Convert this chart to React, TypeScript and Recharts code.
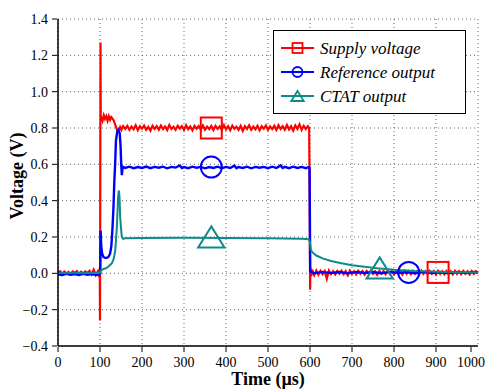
import React from "react"
import { ComposedChart, Line, XAxis, YAxis, CartesianGrid } from "recharts"

const FONT = "'Liberation Serif', 'DejaVu Serif', 'Noto Serif', 'Nimbus Roman', FreeSerif, 'Times New Roman', Times, serif"
const RED = "#ff0000"
const BLUE = "#0000ff"
const TEAL = "#0e8a8a"

const xTicks = [0, 100, 200, 300, 400, 500, 600, 700, 800, 900, 1000]
const yTicks = [-0.4, -0.2, 0, 0.2, 0.4, 0.6, 0.8, 1.0, 1.2, 1.4]

// [time (us), voltage (V)]
const supplyVoltage: [number, number][] = [
  [0, 0.005], [5, 0.012], [10, -0.002], [15, 0.01], [20, 0.0], [25, 0.008], [30, -0.004], [35, 0.01],
  [40, 0.003], [45, 0.012], [50, -0.003], [55, 0.009], [60, 0.0], [65, 0.011], [70, 0.002], [75, 0.014],
  [80, -0.006], [85, 0.02], [90, -0.01], [95, 0.012], [98, -0.02], [99.5, 0.01],
  [100, -0.26], [100.6, 0.4], [101.2, 1.27], [101.8, 0.84], [103, 0.86], [106, 0.84], [109, 0.87],
  [112, 0.85], [115, 0.865], [118, 0.84], [121, 0.865], [124, 0.845], [127, 0.86], [130, 0.85],
  [133, 0.84], [136, 0.82], [139, 0.8], [142, 0.78], [145, 0.785], [148, 0.805], [151, 0.79],
  [155, 0.81], [160, 0.795], [165, 0.812], [170, 0.79], [175, 0.808], [180, 0.793], [185, 0.815],
  [190, 0.788], [195, 0.81], [200, 0.796], [205, 0.813], [210, 0.79], [215, 0.806], [220, 0.785],
  [225, 0.812], [230, 0.795], [235, 0.81], [240, 0.791], [245, 0.814], [250, 0.794], [255, 0.809],
  [260, 0.789], [265, 0.816], [270, 0.795], [275, 0.807], [280, 0.79], [285, 0.812], [290, 0.797],
  [295, 0.81], [300, 0.79], [305, 0.815], [310, 0.793], [315, 0.808], [320, 0.787], [325, 0.812],
  [330, 0.796], [335, 0.81], [340, 0.792], [345, 0.814], [350, 0.79], [355, 0.808], [360, 0.794],
  [365, 0.811], [370, 0.789], [375, 0.812], [380, 0.795], [385, 0.809], [390, 0.79], [395, 0.816],
  [400, 0.793], [405, 0.81], [410, 0.788], [415, 0.813], [420, 0.796], [425, 0.807], [430, 0.79],
  [435, 0.812], [440, 0.784], [445, 0.81], [450, 0.795], [455, 0.815], [460, 0.79], [465, 0.808],
  [470, 0.793], [475, 0.812], [480, 0.788], [485, 0.81], [490, 0.796], [495, 0.814], [500, 0.79],
  [505, 0.809], [510, 0.794], [515, 0.812], [520, 0.789], [525, 0.815], [530, 0.795], [535, 0.81],
  [540, 0.79], [545, 0.817], [550, 0.792], [555, 0.81], [560, 0.786], [565, 0.814], [570, 0.795],
  [575, 0.82], [580, 0.79], [585, 0.812], [590, 0.794], [595, 0.81], [598, 0.8],
  [599.5, 0.3], [600.3, -0.09], [601, 0.03], [603, -0.015], [605, 0.02], [610, -0.01], [615, 0.015],
  [620, -0.008], [625, 0.014], [630, -0.005], [635, 0.012], [640, -0.03], [645, 0.015], [650, -0.004],
  [655, 0.012], [660, -0.006], [665, 0.013], [670, -0.002], [675, 0.014], [680, -0.005], [685, 0.012],
  [690, -0.01], [695, 0.015], [700, -0.003], [705, 0.011], [710, -0.006], [715, 0.014], [720, -0.002],
  [725, 0.012], [730, -0.007], [735, 0.013], [740, -0.004], [745, 0.015], [750, -0.003], [755, 0.011],
  [760, -0.008], [765, 0.013], [770, -0.002], [775, 0.012], [780, -0.005], [785, 0.014], [790, -0.003],
  [795, 0.012], [800, -0.006], [805, 0.013], [810, -0.002], [815, 0.011], [820, -0.007], [825, 0.014],
  [830, -0.003], [835, 0.012], [840, -0.005], [845, 0.013], [850, -0.002], [855, 0.012], [860, -0.006],
  [865, 0.015], [870, -0.003], [875, 0.011], [880, -0.005], [885, 0.013], [890, -0.002], [895, 0.012],
  [900, -0.007], [905, 0.014], [910, -0.003], [915, 0.011], [920, -0.005], [925, 0.013], [930, -0.002],
  [935, 0.012], [940, -0.006], [945, 0.014], [950, -0.003], [955, 0.012], [960, -0.005], [965, 0.013],
  [970, -0.002], [975, 0.011], [980, -0.006], [985, 0.013], [990, -0.003], [995, 0.012], [1000, 0.002],
]

const referenceOutput: [number, number][] = [
  [0, -0.005], [10, -0.009], [20, -0.003], [30, -0.008], [40, -0.004], [50, -0.009], [60, -0.003],
  [70, -0.008], [80, -0.004], [90, -0.009], [99, -0.005], [100.5, 0.0], [101.5, 0.235], [103, 0.15],
  [105, 0.11], [108, 0.09], [112, 0.085], [116, 0.085], [120, 0.09], [124, 0.108], [127, 0.15],
  [130, 0.26], [132, 0.36], [134, 0.5], [136, 0.6], [138, 0.73], [141, 0.78], [144, 0.79], [147, 0.77],
  [149, 0.7], [150.5, 0.6], [152, 0.54], [154, 0.586], [160, 0.58], [170, 0.587], [180, 0.579],
  [190, 0.585], [200, 0.58], [210, 0.588], [220, 0.579], [230, 0.586], [240, 0.581], [250, 0.587],
  [260, 0.578], [270, 0.586], [280, 0.582], [290, 0.594], [295, 0.58], [300, 0.585], [310, 0.579],
  [320, 0.587], [330, 0.581], [340, 0.586], [350, 0.578], [360, 0.585], [370, 0.58], [380, 0.587],
  [390, 0.579], [400, 0.586], [410, 0.58], [420, 0.593], [425, 0.579], [430, 0.585], [440, 0.58],
  [450, 0.587], [460, 0.578], [470, 0.586], [480, 0.581], [490, 0.586], [500, 0.579], [510, 0.587],
  [520, 0.58], [530, 0.594], [535, 0.58], [540, 0.586], [550, 0.579], [560, 0.587], [570, 0.58],
  [580, 0.586], [590, 0.579], [597, 0.585], [599, 0.58], [600.5, 0.01], [610, 0.0], [630, 0.008],
  [650, 0.001], [670, 0.007], [690, 0.0], [710, 0.008], [730, 0.002], [750, 0.007], [770, 0.0],
  [790, 0.008], [810, 0.001], [830, 0.007], [850, 0.0], [870, 0.008], [890, 0.002], [910, 0.007],
  [930, 0.0], [950, 0.008], [970, 0.001], [990, 0.007], [1000, 0.003],
]

const ctatOutput: [number, number][] = [
  [0, 0.003], [20, 0.0], [40, 0.004], [60, 0.001], [80, 0.003], [99, 0.002], [101, 0.012],
  [105, 0.02], [110, 0.025], [116, 0.03], [122, 0.042], [128, 0.055], [132, 0.075], [136, 0.12],
  [138, 0.18], [140, 0.25], [141.5, 0.33], [143, 0.42], [145, 0.456], [146.5, 0.42], [148, 0.31],
  [150, 0.25], [152, 0.2], [155, 0.19], [160, 0.193], [200, 0.195], [300, 0.196], [400, 0.195],
  [500, 0.193], [580, 0.19], [597, 0.188], [600, 0.17], [602, 0.13], [606, 0.115], [615, 0.098],
  [630, 0.082], [650, 0.068], [675, 0.055], [700, 0.045], [730, 0.036], [760, 0.028], [800, 0.02],
  [850, 0.013], [900, 0.009], [950, 0.006], [1000, 0.005],
]

const supplyMarkers: [number, number][] = [[365, 0.8], [905, 0.005]]
const referenceMarkers: [number, number][] = [[365, 0.585], [835, 0.005]]
const ctatMarkers: [number, number][] = [[365, 0.2], [766, 0.03]]

const toRows = (pts: [number, number][]) => pts.map(([t, v]) => ({ t, v }))

const fmtY = (v: number) => (v < 0 ? "\u2212" + Math.abs(v).toFixed(1) : v.toFixed(1))

const txt = (size: number, extra: React.CSSProperties = {}): React.CSSProperties => ({
  fontFamily: FONT,
  fontSize: size,
  fill: "#000",
  ...extra,
})

function Square({ cx, cy, s = 21, w = 2 }: any) {
  return <rect x={cx - s / 2} y={cy - s / 2} width={s} height={s} fill="none" stroke={RED} strokeWidth={w} />
}
function Ring({ cx, cy, s = 21, w = 2 }: any) {
  return <circle cx={cx} cy={cy} r={s / 2} fill="none" stroke={BLUE} strokeWidth={w} />
}
function Tri({ cx, cy, s = 21, w = 2 }: any) {
  const h = s / 2
  const pts = `${cx},${cy - h} ${cx - h * 1.25},${cy + h} ${cx + h * 1.25},${cy + h}`
  return <polygon points={pts} fill="none" stroke={TEAL} strokeWidth={w} />
}

function BottomTick({ x, y, payload }: any) {
  return (
    <g>
      <line x1={x} y1={y} x2={x} y2={y - 5} stroke="#000" strokeWidth={1} />
      <text x={x} y={y + 15} textAnchor="middle" style={txt(14)}>
        {payload.value}
      </text>
    </g>
  )
}
function TopTick({ x, y }: any) {
  return <line x1={x} y1={y} x2={x} y2={y + 5} stroke="#000" strokeWidth={1} />
}
function LeftTick({ x, y, payload }: any) {
  return (
    <g>
      <line x1={x} y1={y} x2={x + 5} y2={y} stroke="#000" strokeWidth={1} />
      <text x={x - 4} y={y + 5} textAnchor="end" style={txt(14)}>
        {fmtY(payload.value)}
      </text>
    </g>
  )
}
function RightTick({ x, y }: any) {
  return <line x1={x} y1={y} x2={x - 5} y2={y} stroke="#000" strokeWidth={1} />
}

const legendItems = [
  { label: "Supply voltage", color: RED, Marker: Square },
  { label: "Reference output", color: BLUE, Marker: Ring },
  { label: "CTAT output", color: TEAL, Marker: Tri },
]

function LegendBox() {
  return (
    <div
      style={{
        position: "absolute",
        left: 273,
        top: 30,
        width: 193,
        height: 84,
        border: "1.5px solid #000",
        background: "#fff",
        boxSizing: "border-box",
      }}
    >
      <svg width={190} height={81}>
        {legendItems.map(({ label, color, Marker }, i) => {
          const cy = 17 + i * 24
          return (
            <g key={label}>
              <line x1={7} y1={cy} x2={40} y2={cy} stroke={color} strokeWidth={2} />
              <Marker cx={23.5} cy={cy} s={10} w={1.8} />
              <text x={46} y={cy + 6} style={txt(17, { fontStyle: "italic" })}>
                {label}
              </text>
            </g>
          )
        })}
      </svg>
    </div>
  )
}

const axisLine = { stroke: "#000", strokeWidth: 1.5 }

export default function App() {
  return (
    <div style={{ position: "absolute", left: 0, top: 0, width: 487, height: 389, background: "#fff" }}>
      <ComposedChart width={487} height={389} margin={{ top: 19, right: 9, bottom: 0, left: 0 }}>
        <CartesianGrid stroke="#666" strokeDasharray="1 3" strokeWidth={1} />
        <XAxis
          dataKey="t"
          type="number"
          domain={[0, 1000]}
          ticks={xTicks}
          height={43}
          tickLine={false}
          tickMargin={0}
          axisLine={axisLine}
          tick={(p: any) => <BottomTick {...p} />}
          label={{
            content: () => (
              <text x={268} y={385} textAnchor="middle" style={txt(18, { fontWeight: "bold" })}>
                Time (µs)
              </text>
            ),
          }}
        />
        <XAxis
          xAxisId="top"
          orientation="top"
          type="number"
          domain={[0, 1000]}
          ticks={xTicks}
          height={0}
          tickLine={false}
          tickMargin={0}
          axisLine={axisLine}
          tick={(p: any) => <TopTick {...p} />}
        />
        <YAxis
          type="number"
          domain={[-0.4, 1.4]}
          ticks={yTicks}
          width={58}
          tickLine={false}
          tickMargin={0}
          axisLine={axisLine}
          allowDataOverflow
          tick={(p: any) => <LeftTick {...p} />}
          label={{
            content: () => (
              <text
                x={17}
                y={176}
                transform="rotate(-90 17 176)"
                textAnchor="middle"
                dominantBaseline="central"
                style={txt(18, { fontWeight: "bold" })}
              >
                Voltage (V)
              </text>
            ),
          }}
        />
        <YAxis
          yAxisId="right"
          orientation="right"
          type="number"
          domain={[-0.4, 1.4]}
          ticks={yTicks}
          width={0}
          tickLine={false}
          tickMargin={0}
          axisLine={axisLine}
          tick={(p: any) => <RightTick {...p} />}
        />
        <Line data={toRows(supplyVoltage)} dataKey="v" stroke={RED} strokeWidth={2.2} dot={false} isAnimationActive={false} />
        <Line data={toRows(referenceOutput)} dataKey="v" stroke={BLUE} strokeWidth={2.4} dot={false} isAnimationActive={false} />
        <Line data={toRows(ctatOutput)} dataKey="v" stroke={TEAL} strokeWidth={2} dot={false} isAnimationActive={false} />
        <Line
          data={toRows(supplyMarkers)}
          dataKey="v"
          stroke="none"
          isAnimationActive={false}
          dot={(p: any) => <Square key={p.index} cx={p.cx} cy={p.cy} />}
        />
        <Line
          data={toRows(referenceMarkers)}
          dataKey="v"
          stroke="none"
          isAnimationActive={false}
          dot={(p: any) => <Ring key={p.index} cx={p.cx} cy={p.cy} />}
        />
        <Line
          data={toRows(ctatMarkers)}
          dataKey="v"
          stroke="none"
          isAnimationActive={false}
          dot={(p: any) => <Tri key={p.index} cx={p.cx} cy={p.cy} />}
        />
      </ComposedChart>
      <LegendBox />
    </div>
  )
}
